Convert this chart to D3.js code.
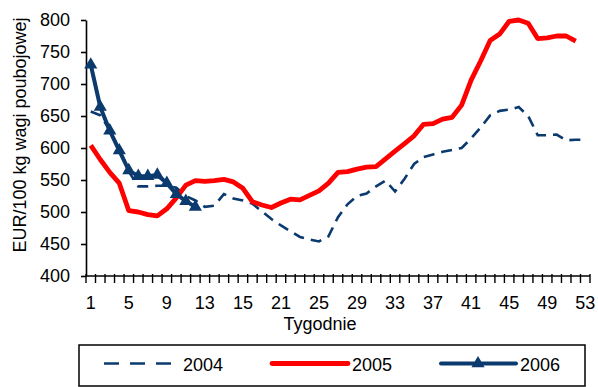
<!DOCTYPE html>
<html>
<head>
<meta charset="utf-8">
<script src="https://cdn.jsdelivr.net/npm/d3@7"></script>
<style>
  html, body { margin: 0; padding: 0; background: #fff; }
  svg { display: block; font-family: "Liberation Sans", Arial, sans-serif; }
</style>
</head>
<body>
<svg id="chart" width="598" height="387"></svg>
<script>
// Weeks of the year
const weeks = d3.range(1, 54);
// Labels shown under every fourth week
const tickWeeks = [1, 5, 9, 13, 17, 21, 25, 29, 33, 37, 41, 45, 49, 53];
const tickLabels = ["1", "5", "9", "13", "15", "21", "25", "29", "33", "37", "41", "45", "49", "53"];
const yTicks = [400, 450, 500, 550, 600, 650, 700, 750, 800];

// Prices, EUR/100 kg carcass weight
const prices2004 = [657, 651, 628, 598, 563, 540, 540, 541, 541, 538, 525, 518, 508, 510, 528,
  521, 518, 513, 501, 489, 479, 470, 461, 457, 454, 462, 492, 512, 525, 529, 540, 549, 532,
  552, 575, 586, 590, 594, 597, 600, 615, 632, 651, 658, 660, 664, 650, 620, 620, 621, 612,
  613, 613];
const prices2005 = [604, 582, 562, 545, 502, 500, 496, 494, 505, 522, 542, 549, 548, 549, 551,
  547, 537, 516, 511, 507, 514, 520, 519, 526, 533, 545, 562, 563, 567, 570, 571, 583, 595,
  607, 619, 637, 638, 645, 648, 667, 706, 736, 768, 778, 798, 800, 795, 771, 772, 775, 775,
  767];
const prices2006 = [730, 664, 627, 596, 565, 556, 556, 558, 545, 528, 517, 508];

const seriesNames = ["2004", "2005", "2006"];
const navy = "#0a3a6e";
const red = "#ff0000";

const svg = d3.select("#chart");

const plotLeft = 86, plotRight = 590, plotTop = 20, plotBottom = 276;

const x = d3.scaleBand().domain(weeks).range([plotLeft, plotRight]).padding(0);
const xc = w => x(w) + x.bandwidth() / 2;
const y = d3.scaleLinear().domain([400, 800]).range([plotBottom, plotTop]);

// Y axis
const yAxis = svg.append("g")
  .attr("transform", `translate(${plotLeft},0)`)
  .call(d3.axisLeft(y).tickValues(yTicks).tickSize(5).tickPadding(11).tickSizeOuter(0));
yAxis.select(".domain").attr("stroke", "#000").attr("stroke-width", 1.6);
yAxis.selectAll(".tick line").attr("stroke", "#000").attr("stroke-width", 1.6);
yAxis.selectAll("text").attr("font-size", 18).attr("fill", "#000")
  .attr("font-family", "Liberation Sans, Arial, sans-serif");

// X axis: baseline, ticks between weeks, labels under every fourth week
const xAxis = svg.append("g").attr("transform", `translate(0,${plotBottom})`);
xAxis.append("line")
  .attr("x1", plotLeft).attr("x2", plotRight)
  .attr("stroke", "#000").attr("stroke-width", 1.6);
const boundaries = weeks.map(w => x(w)).concat([plotRight]);
xAxis.selectAll("line.tk").data(boundaries).join("line")
  .attr("class", "tk")
  .attr("x1", d => d).attr("x2", d => d)
  .attr("y1", -2).attr("y2", 7)
  .attr("stroke", "#000").attr("stroke-width", 1.4);
xAxis.selectAll("text.lbl").data(tickWeeks).join("text")
  .attr("class", "lbl")
  .attr("x", d => xc(d)).attr("y", 33)
  .attr("text-anchor", "middle")
  .attr("font-size", 18)
  .text((d, i) => tickLabels[i]);

// Axis titles
svg.append("text")
  .attr("x", 320).attr("y", 330)
  .attr("text-anchor", "middle").attr("font-size", 18)
  .text("Tygodnie");
svg.append("text")
  .attr("transform", "translate(26,135) rotate(-90)")
  .attr("text-anchor", "middle").attr("font-size", 18)
  .text("EUR/100 kg wagi poubojowej");

const line = d3.line().x((d, i) => xc(weeks[i])).y(d => y(d));

// 2004 – dashed
svg.append("path").datum(prices2004)
  .attr("d", line).attr("fill", "none")
  .attr("stroke", navy).attr("stroke-width", 2.6)
  .attr("stroke-dasharray", "11,7");

// 2005 – thick red
svg.append("path").datum(prices2005)
  .attr("d", line).attr("fill", "none")
  .attr("stroke", red).attr("stroke-width", 4.8)
  .attr("stroke-linejoin", "round");

// 2006 – navy with triangle markers
svg.append("path").datum(prices2006)
  .attr("d", line).attr("fill", "none")
  .attr("stroke", navy).attr("stroke-width", 4)
  .attr("stroke-linejoin", "round");
const tri = d3.symbol().type(d3.symbolTriangle).size(75);
svg.selectAll("path.m06").data(prices2006).join("path")
  .attr("class", "m06")
  .attr("d", tri)
  .attr("transform", (d, i) => `translate(${xc(weeks[i])},${y(d)})`)
  .attr("fill", navy);

// Legend
const lg = svg.append("g");
lg.append("rect")
  .attr("x", 79).attr("y", 345).attr("width", 506).attr("height", 41)
  .attr("fill", "#fff").attr("stroke", "#000").attr("stroke-width", 1.5);
const ly = 363.5;
lg.append("line").attr("x1", 104).attr("x2", 172).attr("y1", ly).attr("y2", ly)
  .attr("stroke", navy).attr("stroke-width", 2.6).attr("stroke-dasharray", "15,11");
lg.append("line").attr("x1", 272).attr("x2", 348).attr("y1", ly).attr("y2", ly)
  .attr("stroke", red).attr("stroke-width", 4.8).attr("stroke-linecap", "round");
lg.append("line").attr("x1", 441).attr("x2", 516).attr("y1", ly).attr("y2", ly)
  .attr("stroke", navy).attr("stroke-width", 4).attr("stroke-linecap", "round");
lg.append("path").attr("d", tri).attr("transform", `translate(478,${ly})`).attr("fill", navy);
const textX = [183, 352, 520];
lg.selectAll("text").data(seriesNames).join("text")
  .attr("x", (d, i) => textX[i]).attr("y", ly + 7)
  .attr("font-size", 18)
  .text(d => d);
</script>
</body>
</html>
